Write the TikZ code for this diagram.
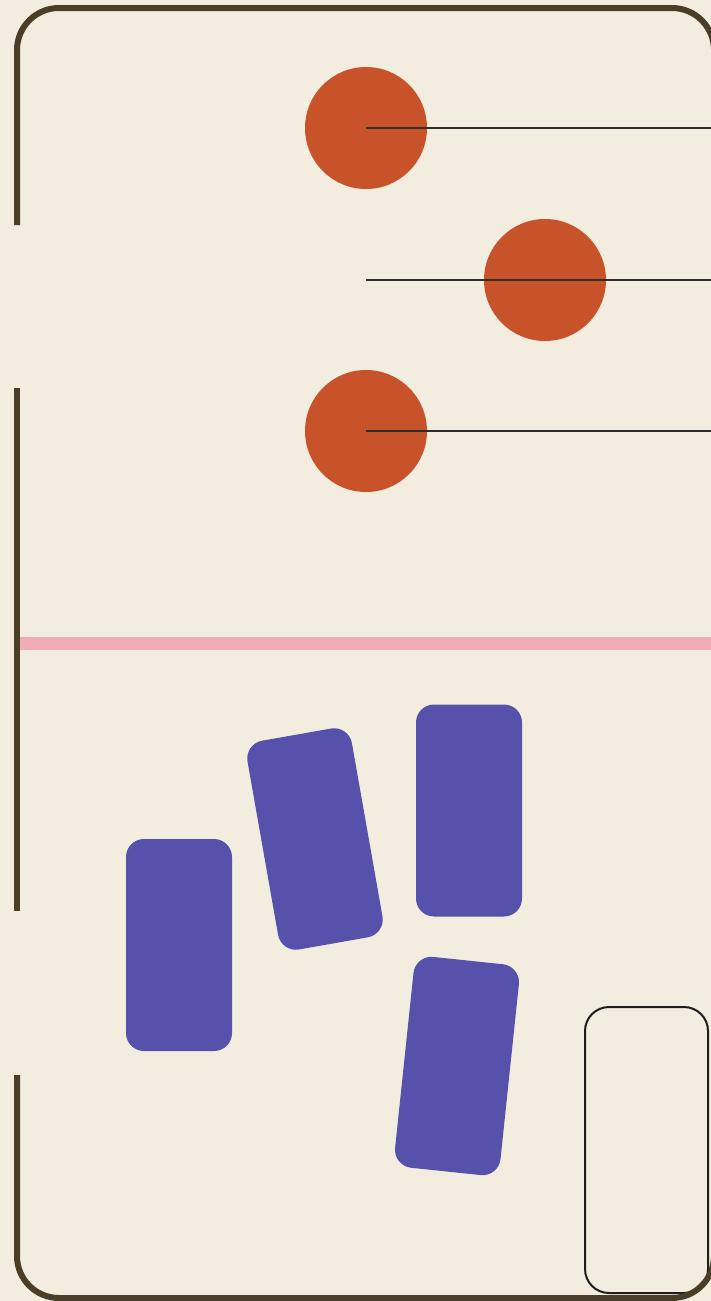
\documentclass[tikz,border=0pt]{standalone}
\begin{document}
\begin{tikzpicture}[x=1pt,y=-1pt,
  bgfill/.style={fill=bgc},
  wall/.style={draw=wallc,line width=6pt},
  dot/.style={circle,fill=dotc,minimum size=122pt,inner sep=0pt},
  slab/.style={rectangle,fill=slabc,rounded corners=18pt,minimum width=106pt,minimum height=212pt,inner sep=0pt},
  leader/.style={draw=linec,line width=1.4pt},
  band/.style={draw=bandc,line width=13pt},
  box/.style={draw=boxc,line width=2pt,rounded corners=24pt}]
\definecolor{bgc}{HTML}{F3EDE0}
\definecolor{wallc}{HTML}{4A3F26}
\definecolor{dotc}{HTML}{C8532A}
\definecolor{slabc}{HTML}{5652AB}
\definecolor{linec}{HTML}{2E2E2E}
\definecolor{bandc}{HTML}{F0ADB5}
\definecolor{boxc}{HTML}{1E1E1E}
\useasboundingbox (0,0) rectangle (711,1301);
\fill[bgc] (0,0) rectangle (711,1301);
% pink band
\coordinate (bandL) at (17,643.5);
\coordinate (bandR) at (711,643.5);
\draw[band] (bandL) -- (bandR);
% circles
\node[dot] (c1) at (366,128) {};
\node[dot] (c2) at (545,280) {};
\node[dot] (c3) at (366,431) {};
\coordinate (e1) at (711,128);
\coordinate (e2) at (711,280);
\coordinate (e3) at (711,431);
\coordinate (s2) at (366,280);
\draw[leader] (c1.center) -- (e1);
\draw[leader] (s2) -- (e2);
\draw[leader] (c3.center) -- (e3);
% slabs
\node[slab] (r1) at (179,945) {};
\node[slab,rotate=10] (r2) at (315,839) {};
\node[slab] (r3) at (469,810.5) {};
\node[slab,rotate=-6] (r4) at (457,1066) {};
% bottom-right box
\draw[box] (585,1007) rectangle (708,1293);
% frame
\draw[wall,rounded corners=42pt] (17,225) -- (17,8) -- (714,8) -- (714,1298) -- (17,1298) -- (17,1075);
\draw[wall] (17,388) -- (17,911);
\end{tikzpicture}
\end{document}
